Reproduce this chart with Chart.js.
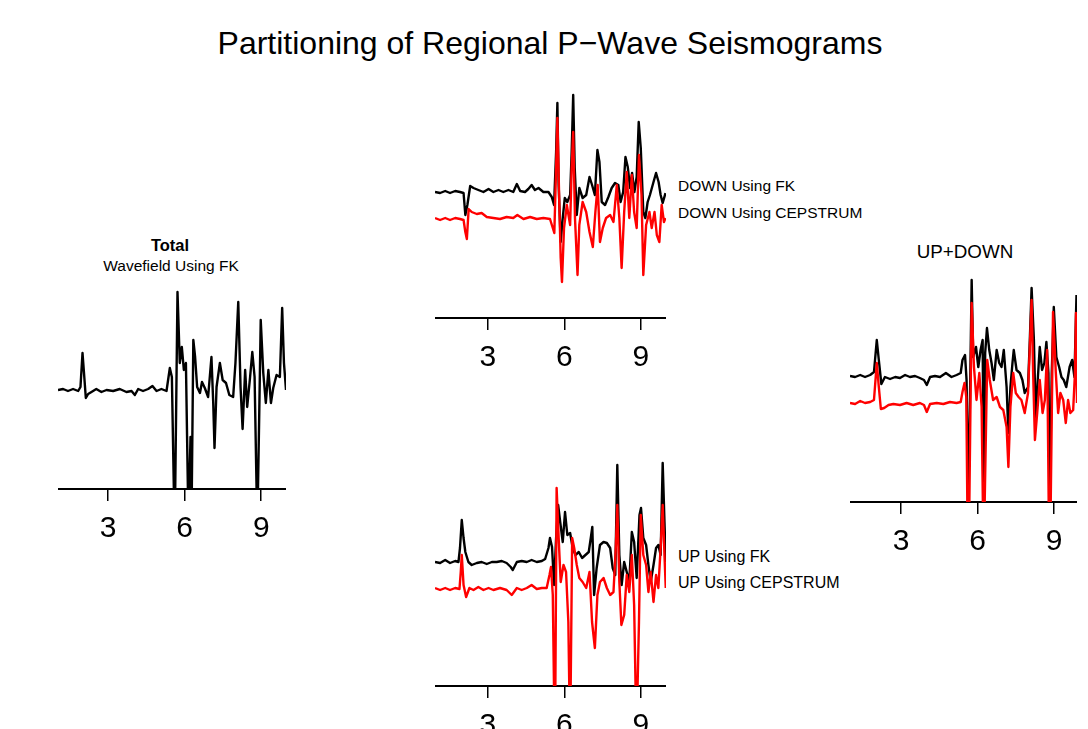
<!DOCTYPE html>
<html>
<head>
<meta charset="utf-8">
<title>Partitioning of Regional P-Wave Seismograms</title>
<script src="https://cdn.jsdelivr.net/npm/chart.js@4.4.1/dist/chart.umd.min.js"></script>
<style>
    body { margin: 0; background: #fff; overflow: hidden; }
    #page { position: relative; width: 1088px; height: 729px; overflow: hidden;
            font-family: "Liberation Sans", Arial, sans-serif; color: #000; }
    .lbl { position: absolute; line-height: 1; white-space: nowrap; }
    .ctr { transform: translateX(-50%); }
    canvas { position: absolute; }
</style>
</head>
<body>
<div id="page">
    <div class="lbl ctr" style="left:550px; top:26.6px; font-size:32px;">Partitioning of Regional P&minus;Wave Seismograms</div>

    <div class="lbl ctr" style="left:170px; top:236.7px; font-size:16.5px; font-weight:bold;">Total</div>
    <div class="lbl ctr" style="left:171px; top:258px; font-size:15.5px;">Wavefield Using FK</div>

    <div class="lbl" style="left:678px; top:177.9px; font-size:15.5px;">DOWN Using FK</div>
    <div class="lbl" style="left:678px; top:204.9px; font-size:15.5px;">DOWN Using CEPSTRUM</div>

    <div class="lbl" style="left:678px; top:548.5px; font-size:16px;">UP Using FK</div>
    <div class="lbl" style="left:678px; top:574.5px; font-size:16px;">UP Using CEPSTRUM</div>

    <div class="lbl ctr" style="left:965px; top:242.6px; font-size:18.8px;">UP+DOWN</div>

    <canvas id="totalChart" width="228" height="290" style="left:58px; top:259px;"></canvas>
    <canvas id="downChart" width="231" height="290" style="left:435px; top:88px;"></canvas>
    <canvas id="upChart" width="231" height="290" style="left:435px; top:456px;"></canvas>
    <canvas id="sumChart" width="227" height="290" style="left:850px; top:272px;"></canvas>
</div>

<script>
// --- DATA: [time (s), amplitude] ---
const tickValues = [3, 6, 9];

const totalFK = [
    [1.04, 9.9], [1.24, 10.0], [1.43, 9.8], [1.63, 10.0], [1.83, 9.8], [1.92, 10.2], [2.00, 13.6], [2.05, 11.9],
    [2.13, 9.1], [2.22, 9.5], [2.35, 9.7], [2.54, 10.0], [2.74, 9.7], [2.94, 9.9], [3.20, 9.8], [3.46, 10.0],
    [3.72, 9.7], [3.92, 9.8], [4.05, 9.4], [4.18, 10.0], [4.37, 9.8], [4.57, 10.0], [4.74, 10.3], [4.90, 9.8],
    [5.09, 10.0], [5.29, 9.8], [5.42, 12.1], [5.50, 11.2], [5.58, -0.4], [5.63, -0.4], [5.72, 19.7], [5.81, 12.6],
    [5.89, 14.2], [5.97, 11.9], [6.05, 12.6], [6.13, -0.4], [6.18, -0.4], [6.23, 5.2], [6.28, -0.4], [6.34, 14.9],
    [6.41, 13.2], [6.49, 10.2], [6.60, 9.6], [6.68, 10.7], [6.79, 10.1], [6.92, 9.2], [7.05, 13.2], [7.12, 8.6],
    [7.17, 4.1], [7.25, 10.2], [7.38, 12.6], [7.49, 10.9], [7.62, 10.6], [7.75, 9.4], [7.90, 9.2], [7.99, 12.6],
    [8.10, 18.7], [8.19, 10.2], [8.27, 6.0], [8.37, 11.9], [8.45, 8.2], [8.56, 11.1], [8.65, 13.7], [8.74, 11.2],
    [8.82, -0.4], [8.87, -0.4], [8.92, 7.2], [8.98, 16.9], [9.08, 11.6], [9.18, 8.6], [9.28, 11.9], [9.38, 8.6],
    [9.47, 10.1], [9.60, 11.4], [9.73, 11.2], [9.82, 18.1], [9.89, 12.6], [9.97, 9.9]
];

const downFK = [
    [0.93, 12.6], [1.13, 12.5], [1.33, 12.7], [1.52, 12.5], [1.72, 12.7], [1.91, 12.6], [2.05, 12.5], [2.12, 10.3],
    [2.20, 11.3], [2.31, 13.2], [2.44, 13.0], [2.63, 12.8], [2.83, 12.6], [3.03, 12.9], [3.22, 12.6], [3.42, 12.8],
    [3.61, 12.6], [3.81, 12.8], [4.00, 12.6], [4.14, 13.4], [4.27, 12.7], [4.46, 12.6], [4.59, 12.9], [4.72, 13.3],
    [4.85, 12.8], [4.99, 13.0], [5.18, 12.6], [5.38, 12.6], [5.51, 12.1], [5.60, 11.3], [5.68, 16.6], [5.73, 21.5],
    [5.78, 13.3], [5.86, 7.6], [5.94, 10.0], [6.02, 12.0], [6.12, 11.6], [6.23, 12.3], [6.29, 16.6], [6.35, 22.3],
    [6.41, 15.0], [6.49, 10.3], [6.59, 13.0], [6.72, 12.0], [6.86, 12.3], [6.99, 14.1], [7.09, 13.3], [7.20, 12.3],
    [7.30, 16.8], [7.38, 15.6], [7.47, 11.6], [7.60, 11.3], [7.73, 12.1], [7.86, 13.0], [7.99, 13.5], [8.12, 13.3],
    [8.21, 11.6], [8.31, 12.6], [8.40, 16.1], [8.49, 15.1], [8.58, 13.0], [8.66, 14.5], [8.75, 12.6], [8.84, 14.1],
    [8.92, 19.6], [9.00, 17.0], [9.10, 10.6], [9.18, 10.0], [9.27, 11.6], [9.36, 12.3], [9.50, 13.6], [9.60, 14.5],
    [9.70, 13.6], [9.78, 12.3], [9.86, 11.5], [9.97, 12.5]
];

const downCepstrum = [
    [0.93, 10.0], [1.13, 9.8], [1.33, 10.0], [1.52, 9.8], [1.72, 10.0], [1.91, 9.9], [2.05, 9.8], [2.12, 8.6],
    [2.18, 7.9], [2.25, 10.9], [2.37, 10.6], [2.57, 10.4], [2.76, 10.5], [2.96, 10.1], [3.22, 10.0], [3.48, 9.9],
    [3.74, 10.1], [4.00, 10.0], [4.16, 10.3], [4.40, 9.9], [4.66, 10.1], [4.92, 9.9], [5.18, 10.0], [5.44, 9.9],
    [5.55, 9.0], [5.61, 8.5], [5.68, 15.0], [5.73, 20.0], [5.80, 12.0], [5.86, 6.0], [5.91, 3.6], [5.99, 9.0],
    [6.10, 11.3], [6.23, 9.3], [6.29, 15.0], [6.35, 18.6], [6.42, 10.0], [6.52, 4.3], [6.59, 9.3], [6.72, 11.6],
    [6.86, 10.6], [6.99, 8.6], [7.12, 7.1], [7.22, 10.6], [7.31, 13.3], [7.40, 7.6], [7.51, 9.0], [7.64, 10.0],
    [7.80, 10.3], [7.93, 9.6], [8.06, 13.3], [8.16, 10.0], [8.25, 5.0], [8.35, 10.6], [8.45, 14.6], [8.55, 10.0],
    [8.65, 14.3], [8.74, 10.6], [8.84, 9.0], [8.93, 16.3], [9.03, 12.3], [9.10, 4.3], [9.21, 9.3], [9.34, 10.6],
    [9.43, 9.0], [9.54, 10.6], [9.63, 8.3], [9.73, 7.6], [9.82, 11.3], [9.91, 9.6], [9.97, 10.0]
];

const upFK = [
    [0.93, 12.4], [1.13, 12.3], [1.33, 12.6], [1.52, 12.3], [1.72, 12.5], [1.85, 12.4], [1.91, 13.8], [1.98, 16.6],
    [2.05, 14.8], [2.12, 13.4], [2.24, 12.4], [2.37, 12.1], [2.57, 12.3], [2.76, 12.4], [2.96, 12.2], [3.16, 12.4],
    [3.35, 12.4], [3.55, 12.5], [3.74, 12.3], [3.90, 11.9], [3.98, 11.6], [4.14, 12.4], [4.33, 12.5], [4.53, 12.4],
    [4.72, 12.6], [4.92, 12.4], [5.12, 12.5], [5.25, 12.7], [5.38, 13.8], [5.44, 14.8], [5.52, 13.9], [5.60, 10.1],
    [5.68, 14.8], [5.76, 18.1], [5.84, 16.4], [5.94, 14.4], [6.03, 17.4], [6.12, 15.1], [6.23, 15.3], [6.33, 13.8],
    [6.44, 13.1], [6.57, 13.4], [6.70, 12.8], [6.83, 13.1], [6.96, 13.4], [7.04, 14.8], [7.10, 15.9], [7.17, 9.1],
    [7.27, 11.8], [7.40, 14.1], [7.54, 14.4], [7.67, 14.3], [7.80, 13.8], [7.90, 11.8], [8.00, 11.1], [8.08, 22.1],
    [8.16, 13.1], [8.25, 10.1], [8.35, 12.4], [8.45, 11.4], [8.55, 10.4], [8.65, 15.4], [8.74, 14.4], [8.84, 10.8],
    [8.95, 17.1], [9.01, 17.8], [9.10, 14.8], [9.21, 14.1], [9.30, 12.1], [9.39, 10.4], [9.50, 12.1], [9.60, 13.8],
    [9.69, 14.1], [9.78, 13.1], [9.86, 22.3], [9.93, 16.4], [9.98, 12.4]
];

const upCepstrum = [
    [0.93, 9.8], [1.13, 9.6], [1.33, 9.8], [1.52, 9.6], [1.72, 9.8], [1.89, 9.7], [1.94, 11.4], [1.98, 13.1],
    [2.05, 10.1], [2.15, 8.9], [2.28, 9.8], [2.44, 9.6], [2.63, 9.9], [2.83, 9.6], [3.03, 9.8], [3.22, 9.6],
    [3.48, 9.8], [3.74, 9.6], [3.94, 9.1], [4.14, 9.8], [4.33, 9.6], [4.53, 9.8], [4.72, 10.1], [4.92, 9.7],
    [5.12, 9.8], [5.31, 9.8], [5.42, 11.1], [5.48, 11.9], [5.55, 9.1], [5.60, -0.6], [5.65, -0.6], [5.70, 19.8],
    [5.78, 14.8], [5.86, 10.4], [5.97, 12.1], [6.07, 11.4], [6.16, 6.4], [6.20, -0.6], [6.25, -0.6], [6.31, 14.8],
    [6.39, 13.8], [6.49, 12.1], [6.59, 10.8], [6.72, 10.4], [6.86, 9.8], [6.99, 11.4], [7.09, 6.4], [7.20, 3.8],
    [7.30, 9.1], [7.40, 10.4], [7.54, 10.8], [7.67, 9.8], [7.80, 9.1], [7.93, 9.4], [8.02, 13.8], [8.08, 18.1],
    [8.16, 10.4], [8.24, 6.1], [8.35, 7.1], [8.45, 11.1], [8.55, 9.4], [8.65, 13.1], [8.74, 8.1], [8.80, -0.6],
    [8.87, -0.6], [8.93, 6.4], [9.00, 17.1], [9.10, 13.1], [9.21, 12.1], [9.30, 9.4], [9.39, 11.4], [9.50, 8.4],
    [9.60, 11.1], [9.69, 9.8], [9.78, 13.8], [9.86, 18.1], [9.93, 13.1], [9.98, 9.8]
];

const sumFK = [
    [1.00, 12.6], [1.20, 12.5], [1.40, 12.7], [1.59, 12.5], [1.79, 12.7], [1.94, 13.0], [2.05, 16.2], [2.13, 14.2],
    [2.23, 11.8], [2.37, 12.5], [2.57, 12.3], [2.77, 12.5], [2.96, 12.4], [3.16, 12.7], [3.35, 12.5], [3.55, 12.6],
    [3.74, 12.4], [3.90, 12.2], [4.01, 11.7], [4.14, 12.5], [4.33, 12.6], [4.53, 12.5], [4.76, 12.9], [4.98, 12.5],
    [5.18, 12.7], [5.34, 12.9], [5.41, 14.2], [5.51, 14.7], [5.57, 12.2], [5.64, -0.1], [5.70, 9.5], [5.77, 22.2],
    [5.83, 14.5], [5.94, 15.5], [6.03, 13.5], [6.12, 15.2], [6.20, 16.2], [6.25, -0.1], [6.30, 14.9], [6.37, 17.4],
    [6.46, 15.2], [6.55, 13.9], [6.64, 12.2], [6.75, 15.2], [6.85, 13.9], [6.94, 13.5], [7.03, 15.2], [7.14, 11.5],
    [7.21, 6.9], [7.29, 11.5], [7.37, 13.9], [7.42, 15.2], [7.53, 13.2], [7.66, 12.9], [7.76, 12.2], [7.85, 10.9],
    [7.98, 11.5], [8.05, 16.2], [8.12, 21.4], [8.21, 16.2], [8.28, 8.5], [8.36, 12.2], [8.44, 15.5], [8.53, 13.2],
    [8.62, 13.9], [8.70, 16.0], [8.78, 12.9], [8.83, -0.1], [8.91, 12.9], [8.99, 19.5], [9.09, 14.5], [9.20, 13.5],
    [9.29, 12.5], [9.38, 12.2], [9.48, 11.5], [9.61, 13.5], [9.71, 14.2], [9.80, 12.5], [9.88, 20.7]
];

const sumCepstrum = [
    [1.00, 9.9], [1.20, 9.8], [1.40, 10.1], [1.59, 9.9], [1.79, 10.0], [1.94, 10.2], [2.05, 13.9], [2.13, 11.5],
    [2.21, 9.3], [2.34, 9.4], [2.51, 9.7], [2.70, 9.8], [2.96, 9.7], [3.22, 9.9], [3.48, 9.7], [3.74, 9.9],
    [3.90, 9.7], [4.01, 9.0], [4.14, 9.8], [4.40, 9.9], [4.66, 9.8], [4.92, 10.0], [5.18, 9.9], [5.34, 10.0],
    [5.41, 11.0], [5.49, 11.9], [5.56, 10.5], [5.60, -0.1], [5.68, -0.1], [5.77, 19.9], [5.86, 13.5], [5.96, 10.2],
    [6.07, 12.9], [6.16, 9.5], [6.21, -0.1], [6.28, -0.1], [6.38, 14.2], [6.48, 12.2], [6.61, 10.2], [6.75, 10.5],
    [6.88, 9.5], [7.01, 9.2], [7.14, 7.5], [7.21, 3.5], [7.29, 9.5], [7.40, 12.9], [7.50, 10.9], [7.61, 10.5],
    [7.72, 10.2], [7.85, 8.9], [7.98, 10.9], [8.05, 15.5], [8.12, 20.2], [8.18, 12.9], [8.25, 6.2], [8.34, 8.9],
    [8.44, 12.2], [8.55, 8.9], [8.64, 10.2], [8.73, 15.2], [8.79, -0.1], [8.87, -0.1], [8.96, 19.0], [9.07, 12.9],
    [9.16, 8.9], [9.25, 10.9], [9.36, 10.2], [9.46, 7.9], [9.55, 10.2], [9.64, 8.9], [9.75, 9.2], [9.82, 12.9],
    [9.86, 18.9], [9.90, 9.9]
];

// --- CHART HELPERS ---
const FONT = '"Liberation Sans", Arial, sans-serif';

const toPoints = (pairs) => pairs.map(([x, y]) => ({ x, y }));

const trace = (pairs, color, order) => ({
    data: toPoints(pairs),
    borderColor: color,
    borderWidth: 2.4,
    borderJoinStyle: 'round',
    pointRadius: 0,
    tension: 0,
    fill: false,
    order: order
});

const makePanel = (canvasId, xMin, xMax, datasets) => {
    return new Chart(document.getElementById(canvasId), {
        type: 'line',
        data: { datasets },
        options: {
            responsive: false,
            animation: false,
            events: [],
            layout: { padding: 0 },
            plugins: { legend: { display: false }, tooltip: { enabled: false } },
            scales: {
                x: {
                    type: 'linear',
                    min: xMin,
                    max: xMax,
                    afterBuildTicks: (axis) => { axis.ticks = tickValues.map(v => ({ value: v })); },
                    afterFit: (axis) => { axis.height = 60; },
                    border: { display: true, color: '#000', width: 2 },
                    grid: { drawOnChartArea: false, drawTicks: true, tickLength: 12, color: '#000', lineWidth: 1.5 },
                    ticks: { color: '#000', font: { family: FONT, size: 30 }, padding: 10, maxRotation: 0, autoSkip: false }
                },
                y: { display: false, min: 0, max: 23 }
            }
        }
    });
};

// --- PANELS ---
makePanel('totalChart', 1.04, 9.97, [trace(totalFK, '#000', 1)]);
makePanel('downChart', 0.93, 9.99, [trace(downCepstrum, '#ff0000', 0), trace(downFK, '#000', 1)]);
makePanel('upChart', 0.93, 9.99, [trace(upCepstrum, '#ff0000', 0), trace(upFK, '#000', 1)]);
makePanel('sumChart', 1.0, 9.9, [trace(sumCepstrum, '#ff0000', 0), trace(sumFK, '#000', 1)]);
</script>
</body>
</html>
